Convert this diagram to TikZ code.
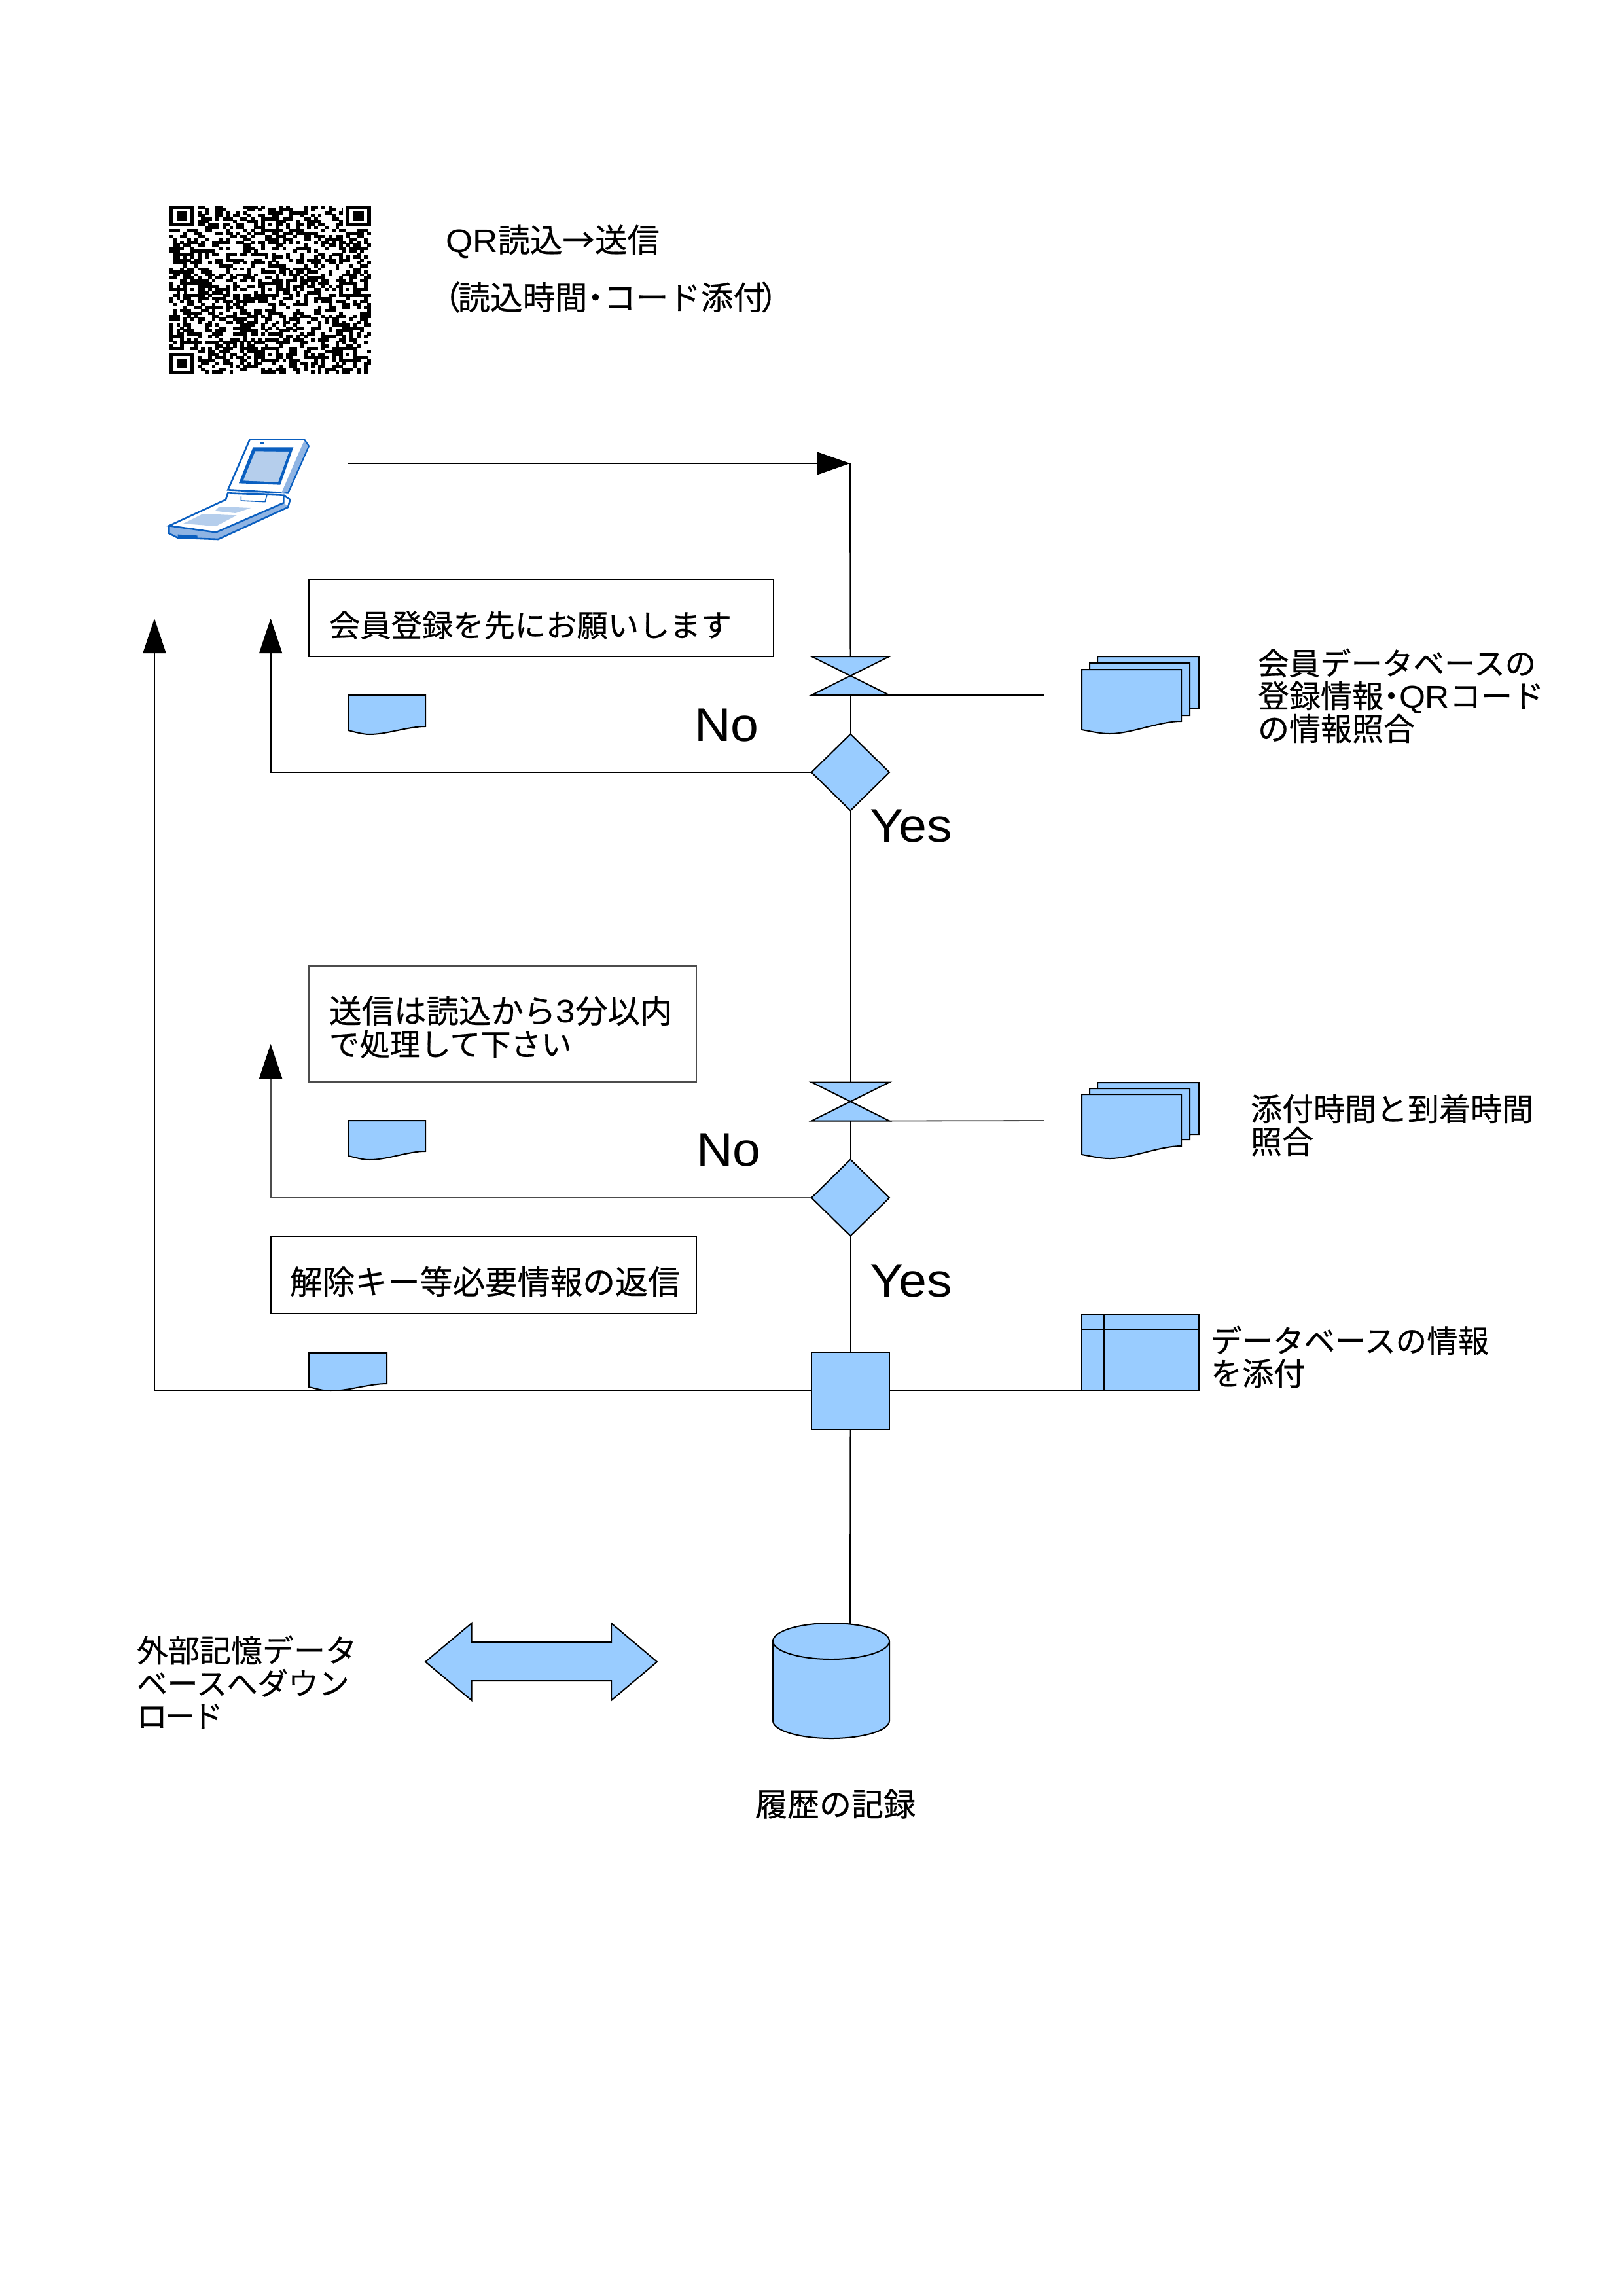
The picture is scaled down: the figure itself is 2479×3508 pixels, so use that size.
\documentclass[tikz,border=0pt]{standalone}
\usepackage{fontspec}
\setmainfont[FakeBold=0.4]{Noto Sans CJK JP}
\newfontfamily\lat[FakeStretch=1.07]{Liberation Sans}
\usetikzlibrary{shapes.geometric,arrows.meta}
\definecolor{flow}{HTML}{99CCFF}
\definecolor{phd}{HTML}{0A5FC0}
\definecolor{phm}{HTML}{8FB4E3}
\definecolor{phl}{HTML}{B5CEEC}
\tikzset{
  x=1pt,y=-1pt,
  shapeline/.style={draw=black,line width=2pt,fill=flow,line join=miter},
  conn/.style={draw=black,line width=2pt},
  connthin/.style={draw=black!70,line width=1.8pt},
  uparrow/.style={-{Triangle[length=53pt,width=35pt,color=black]}},
  rightarrow/.style={-{Triangle[length=51pt,width=35pt]}},
  msgbox/.style={draw=black,line width=2pt,fill=white,inner sep=0pt,outer sep=0pt},
  msgboxthin/.style={draw=black!70,line width=1.8pt,fill=white,inner sep=0pt,outer sep=0pt},
  jtxt/.style={inner sep=0pt,outer sep=0pt,anchor=west,align=left,font=\fontsize{48}{50}\selectfont},
  ltxt/.style={inner sep=0pt,outer sep=0pt,anchor=base west,font=\fontsize{72}{72}\selectfont\lat},
  decision/.style={shape=diamond,shapeline,inner sep=0pt,outer sep=0pt,minimum width=119pt,minimum height=117pt},
  process/.style={shape=rectangle,shapeline,inner sep=0pt,outer sep=0pt,minimum width=119pt,minimum height=118pt},
  bowframe/.style={shape=rectangle,inner sep=0pt,outer sep=0pt,minimum width=119pt,minimum height=59pt},
}
\newcommand\FS[1]{\fontsize{#1}{50}\selectfont}
% x0, ytop, x1, yright, yleft
\newcommand\DocShape[5]{%
  \path[shapeline] (#1,#2) -- (#3,#2) -- (#3,#4)
    .. controls ({#3-0.22*(#3-#1)},#4) and ({#1+0.5*(#3-#1)},{#5+6}) .. ({#1+0.28*(#3-#1)},{#5+6})
    .. controls ({#1+0.18*(#3-#1)},{#5+6}) and ({#1+0.08*(#3-#1)},{#5+2}) .. (#1,#5) -- cycle;}
\newcommand\BowTie[1]{%
  \path[shapeline] (#1.north west) -- (#1.north east) -- (#1.south west) -- (#1.south east) -- cycle;}
\newcommand\QRblock[5]{\fill[#5] ({259+5.4*(#1)},{314+4.51*(#2)}) rectangle ({259+5.4*(#3)},{314+4.51*(#4)});}
\newcommand\QRfinder[2]{%
  \QRblock{#1}{#2}{#1+7}{#2+7}{black}\QRblock{#1+1}{#2+1}{#1+6}{#2+6}{white}\QRblock{#1+2}{#2+2}{#1+5}{#2+5}{black}}
\newcommand\QRalign[2]{%
  \QRblock{#1-2}{#2-2}{#1+3}{#2+3}{black}\QRblock{#1-1}{#2-1}{#1+2}{#2+2}{white}\QRblock{#1}{#2}{#1+1}{#2+1}{black}}
\begin{document}
\begin{tikzpicture}
\useasboundingbox (0,0) rectangle (2479,3508);
\fill[white] (0,0) rectangle (2479,3508);

% QR code
\pgfmathsetseed{20240}
\foreach \r in {0,...,56}{
  \foreach \c in {0,...,56}{
    \pgfmathrandominteger{\qrv}{0}{99}
    \ifnum\qrv<47
      \fill[black] ({259+5.4*\c-0.2},{314+4.51*\r-0.2}) rectangle ({259+5.4*(\c+1)+0.2},{314+4.51*(\r+1)+0.2});
    \fi
  }
}
\QRblock{0}{0}{8}{8}{white}\QRblock{49}{0}{57}{8}{white}\QRblock{0}{49}{8}{57}{white}
\QRfinder{0}{0}\QRfinder{50}{0}\QRfinder{0}{50}
\QRalign{28}{6}\QRalign{6}{28}\QRalign{28}{28}\QRalign{50}{28}\QRalign{28}{50}\QRalign{50}{50}

% Phone
\begin{scope}[shift={(220,640)},x=0.33333pt,y=-0.33333pt]
  \path[fill=phm] (115,490) -- (330,520) -- (640,385) -- (665,405) -- (340,552) -- (155,548) -- (115,525) -- cycle;
  \path[draw=phd,line width=2.6pt,fill=white] (375,370) -- (115,490) -- (330,520) -- (640,385) -- (640,350) -- (385,340) -- cycle;
  \path[draw=phd,line width=2.6pt] (115,490) -- (115,525) -- (155,545) -- (340,552) -- (660,405) -- (670,370) -- (640,350);
  \path[fill=phd] (155,530) -- (245,535) -- (245,552) -- (155,546) -- cycle;
  \path[fill=phl] (345,402) -- (490,408) -- (420,432) -- (325,422) -- cycle;
  \path[fill=phl] (270,435) -- (425,442) -- (330,492) -- (180,480) -- cycle;
  \path[draw=phd,line width=2.6pt,fill=white] (485,95) -- (735,95) -- (755,125) -- (660,340) -- (385,325) -- cycle;
  \path[fill=phm] (735,100) -- (752,125) -- (658,335) -- (630,340) -- (712,150) -- cycle;
  \path[fill=phd] (500,130) -- (685,130) -- (625,302) -- (435,295) -- cycle;
  \path[fill=phl] (510,148) -- (665,150) -- (615,290) -- (455,283) -- cycle;
  \path[fill=phd] (530,106) rectangle (548,116);
  \path[draw=phd,line width=1.6pt] (445,355) -- (445,375) -- (555,380) -- (565,345);
  \path[draw=phm,line width=1.6pt] (458,335) -- (565,342);
\end{scope}

% Named anchors for connectors
\coordinate (phoneout) at (531,708);
\coordinate (junction) at (1299,708);
\coordinate (tipA) at (236,945);
\coordinate (tipB) at (413.6,945);
\coordinate (tipC) at (413.6,1595);
\coordinate (dbone) at (1595,1062);
\coordinate (dbtwo) at (1595,1712);
\coordinate (cyltop) at (1299,2482);

% Flow nodes
\node[bowframe] (b1) at (1299.5,1032.5) {};
\node[decision] (d1) at (1299.5,1180) {};
\node[bowframe] (b2) at (1299.5,1683) {};
\node[decision] (d2) at (1299.5,1830) {};
\node[process]  (p)  at (1299.5,2125) {};
\node[shape=rectangle,inner sep=0pt,outer sep=0pt,minimum width=179pt,minimum height=117pt,shapeline] (tbl) at (1742.5,2066.5) {};

% Connectors
\draw[conn,rightarrow] (phoneout) -- (junction);
\draw[conn] (junction) -- (b1.north);
\draw[conn] (b1.south) -- (d1.north);
\draw[conn] (b1.south east) -- (dbone);
\draw[conn,uparrow] (d1.west) -| (tipB);
\draw[conn] (d1.south) -- (b2.north);
\draw[conn] (b2.south) -- (d2.north);
\draw[connthin] (b2.south east) -- (dbtwo);
\draw[connthin,uparrow] (d2.west) -| (tipC);
\draw[conn] (d2.south) -- (p.north);
\draw[conn,uparrow] (p.west) -| (tipA);
\draw[conn] (p.east) -- (tbl.south west);
\draw[conn] (p.south) -- (cyltop);

% Redraw flow shapes on top of the connectors
\BowTie{b1}\BowTie{b2}

% Table detail
\draw[conn] (1687,2007.5) -- (1687,2125);
\draw[conn] (1653,2030.5) -- (1832,2030.5);

% Message boxes
\node[msgbox,minimum width=710pt,minimum height=118pt] (box1) at (827,944) {};
\node[msgboxthin,minimum width=592pt,minimum height=177pt] (box2) at (768,1564.5) {};
\node[msgbox,minimum width=650pt,minimum height=118pt] (box3) at (738.8,1948) {};
\node[jtxt] (t1) at (503,955) {\FS{47.3}会員登録を先にお願いします};
\node[jtxt] (t2) at (503,1569) {\FS{49.5}送信は読込から{\lat 3}分以内\\\FS{46.5}で処理して下さい};
\node[jtxt] (t3) at (443,1958) {\FS{49.7}解除キー等必要情報の返信};

% Small documents
\DocShape{532}{1062}{650}{1110}{1116}
\DocShape{532}{1712}{650}{1759}{1766}
\DocShape{472}{2067}{591}{2114}{2119}

% Multi documents
\DocShape{1677}{1003}{1832}{1082}{1082}
\DocShape{1665}{1013}{1818}{1093}{1093}
\DocShape{1653}{1023}{1805}{1102}{1115}
\DocShape{1677}{1654}{1832}{1733}{1733}
\DocShape{1665}{1663}{1818}{1741}{1741}
\DocShape{1653}{1672}{1805}{1751}{1764}

% Double arrow
\path[shapeline] (650,2539) -- (720.6,2480) -- (720.6,2509) -- (934,2509) -- (934,2480) -- (1004,2539) -- (934,2598) -- (934,2568) -- (720.6,2568) -- (720.6,2598) -- cycle;

% Cylinder
\path[shapeline] (1181,2507.5) -- (1181,2629) arc[start angle=180,end angle=360,x radius=89pt,y radius=27pt] -- (1359,2507.5) arc[start angle=0,end angle=180,x radius=89pt,y radius=27.5pt] -- cycle;
\path[draw=black,line width=2pt] (1181,2507.5) arc[start angle=180,end angle=360,x radius=89pt,y radius=27.5pt];

% Labels
\node[jtxt] (qr1) at (681,369) {\FS{49.5}{\lat QR}読込→送信};
\node[jtxt] (qr2) at (655,454) {\FS{49.5}（\kern-.1em 読込時間\kern-.25em・\kern-.25em コード添付\kern-.15em）};
\node[jtxt] (l1) at (1922,1063) {\FS{47.5}会員データベースの\\登録情報\kern-.25em・\kern-.25em{\lat QR}コード\\の情報照合};
\node[jtxt] (l2) at (1911,1719) {添付時間と到着時間\\照合};
\node[jtxt] (l3) at (1850,2073) {\FS{47.5}データベースの情報\\を添付};
\node[jtxt] (l4) at (209,2570) {外部記憶データ\\\FS{46.7}ベースへダウン\\\FS{46.7}ロ\kern-.08em ー\kern-.1em ド};
\node[jtxt] (l5) at (1154,2756) {\FS{49}履歴の記録};
\node[ltxt] (no1) at (1061,1132) {No};
\node[ltxt] (no2) at (1064,1781) {No};
\node[ltxt] (yes1) at (1329,1286) {Yes};
\node[ltxt] (yes2) at (1329,1981) {Yes};
\end{tikzpicture}
\end{document}
